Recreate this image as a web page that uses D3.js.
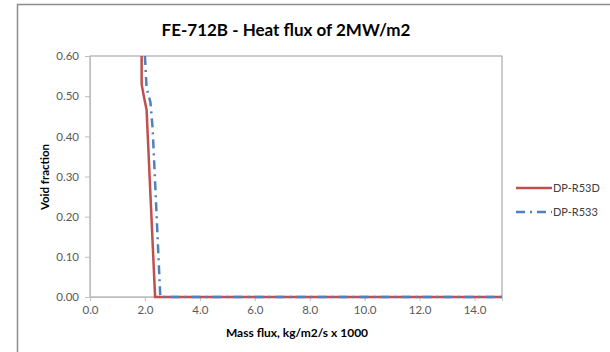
<!DOCTYPE html>
<html>
<head>
<meta charset="utf-8">
<script src="https://cdn.jsdelivr.net/npm/d3@7"></script>
<style>
  body { margin: 0; background: #fff; }
  svg { display: block; font-family: "Lato", "Open Sans", sans-serif; }
</style>
</head>
<body>
<div id="chart"></div>
<script>
// Data
const seriesNames = ['DP-R53D', 'DP-R533'];
const seriesColors = ['#c0504d', '#4f81bd'];
const r53dMass = [1.88, 1.88, 1.96, 2.06, 2.37, 15.0];
const r53dVoid = [0.60, 0.53, 0.50, 0.466, 0.0, 0.0];
const r533Mass = [2.0, 2.06, 2.2, 2.28, 2.56, 15.0];
const r533Void = [0.60, 0.52, 0.485, 0.42, 0.0, 0.0];
const xTicks = [0, 2, 4, 6, 8, 10, 12, 14];
const yTicks = [0, 0.1, 0.2, 0.3, 0.4, 0.5, 0.6];

const width = 610, height = 352;
const margin = { left: 90, right: 108, top: 56, bottom: 55 };

const svg = d3.select('#chart')
  .append('svg')
  .attr('width', width)
  .attr('height', height);

// outer frame (only top and left visible)
svg.append('path')
  .attr('d', `M17.5,${height} L17.5,4.5 L${width},4.5`)
  .style('fill', 'none')
  .style('stroke', '#8c8c8c')
  .style('stroke-width', 1.5);

const x = d3.scaleLinear().domain([0, 15]).range([margin.left, width - margin.right]);
const y = d3.scaleLinear().domain([0, 0.6]).range([height - margin.bottom, margin.top]);

// plot area box
svg.append('rect')
  .attr('x', x(0))
  .attr('y', y(0.6))
  .attr('width', x(15) - x(0))
  .attr('height', y(0) - y(0.6))
  .style('fill', 'none')
  .style('stroke', '#9a9a9a')
  .style('stroke-width', 1);

const xAxis = svg.append('g')
  .attr('transform', `translate(0,${y(0)})`)
  .call(d3.axisBottom(x).tickValues(xTicks).tickFormat(d3.format('.1f')).tickSize(4).tickPadding(5));
const yAxis = svg.append('g')
  .attr('transform', `translate(${x(0)},0)`)
  .call(d3.axisLeft(y).tickValues(yTicks).tickFormat(d3.format('.2f')).tickSize(5).tickPadding(6));

[xAxis, yAxis].forEach(g => {
  g.select('.domain').style('stroke', '#bfbfbf');
  g.selectAll('.tick line').style('stroke', '#bfbfbf');
  g.selectAll('.tick text')
    .style('fill', '#595959')
    .style('font-size', '11.5px')
    .style('font-family', 'Lato, sans-serif');
});

// series
const series = [
  r53dMass.map((m, i) => ({ m: m, v: r53dVoid[i] })),
  r533Mass.map((m, i) => ({ m: m, v: r533Void[i] }))
];
const dashes = [null, '9,5,2,5'];

const line = d3.line().x(d => x(d.m)).y(d => y(d.v));

// red first, blue dash-dot on top (gives the mixed red/blue bottom line)
[0, 1].forEach(i => {
  svg.append('path')
    .datum(series[i])
    .attr('d', line)
    .style('fill', 'none')
    .style('stroke', seriesColors[i])
    .style('stroke-width', 2.5)
    .style('stroke-dasharray', dashes[i]);
});

// title
svg.append('text')
  .attr('x', 286)
  .attr('y', 36)
  .attr('text-anchor', 'middle')
  .style('font-size', '17px')
  .style('font-weight', 'bold')
  .style('fill', '#000')
  .text('FE-712B - Heat flux of 2MW/m2');

// axis titles
svg.append('text')
  .attr('x', 297)
  .attr('y', 337)
  .attr('text-anchor', 'middle')
  .style('font-size', '12px')
  .style('font-weight', 'bold')
  .text('Mass flux, kg/m2/s x 1000');

svg.append('text')
  .attr('transform', `translate(49,177) rotate(-90)`)
  .attr('text-anchor', 'middle')
  .style('font-size', '11.5px')
  .style('font-weight', 'bold')
  .text('Void fraction');

// legend
const legend = svg.append('g');
seriesNames.forEach((name, i) => {
  const ly = 188 + i * 24;
  legend.append('line')
    .attr('x1', 516).attr('x2', 552)
    .attr('y1', ly).attr('y2', ly)
    .style('stroke', seriesColors[i])
    .style('stroke-width', 2.5)
    .style('stroke-dasharray', dashes[i]);
  legend.append('text')
    .attr('x', 553)
    .attr('y', ly + 4)
    .style('font-size', '11px')
    .style('fill', '#404040')
    .text(name);
});
</script>
</body>
</html>
